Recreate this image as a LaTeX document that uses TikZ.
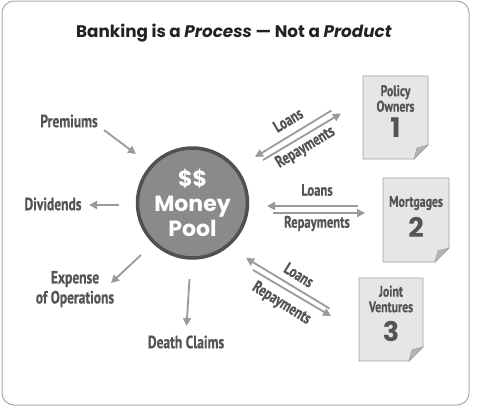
\documentclass[tikz,border=0pt]{standalone}
\usepackage{fontspec}
\usetikzlibrary{arrows.meta}
\newfontfamily\titlefont{Poppins}
\newfontfamily\condfont[FakeStretch=0.76,BoldFeatures={FakeBold=0.6}]{PT Sans}
\definecolor{labelgray}{HTML}{545456}
\definecolor{arrowgray}{HTML}{9A9A9C}
\definecolor{poolfill}{HTML}{8A8A8C}
\definecolor{poolline}{HTML}{505052}
\definecolor{docfill}{HTML}{E6E6E6}
\definecolor{docline}{HTML}{A0A0A0}
\definecolor{foldfill}{HTML}{B5B5B5}
\definecolor{framegray}{HTML}{AAAAAA}
\definecolor{titlecol}{HTML}{222222}
\newcommand{\docpage}[4]{%
  \filldraw[fill=docfill,draw=docline,line width=0.8pt]
    (#1,#2) -- (#3,#2) -- (#3,#4-14) -- (#3-14,#4) -- (#1,#4) -- cycle;
  \filldraw[fill=foldfill,draw=docline,line width=0.6pt]
    (#3,#4-14) -- (#3-14,#4) -- (#3-11,#4-11) -- cycle;}
\begin{document}
\begin{tikzpicture}[x=1pt,y=-1pt,
  lbl/.style={text=labelgray,font=\condfont\bfseries\fontsize{17.8}{20}\selectfont,align=center,inner sep=0pt},
  doclbl/.style={text=labelgray,font=\condfont\bfseries\fontsize{15.5}{15.5}\selectfont,align=center,inner sep=0pt},
  docnum/.style={text=labelgray,font=\titlefont\bfseries\fontsize{27}{27}\selectfont,inner sep=0pt},
  arr/.style={draw=arrowgray,line width=1.8pt,-{Triangle[length=8pt,width=8pt]}},
  arrlbl/.style={text=labelgray,font=\condfont\bfseries\fontsize{16.6}{17}\selectfont,inner sep=0pt}]
\useasboundingbox (0,0) rectangle (486,413);
\draw[framegray,line width=1pt,rounded corners=12pt] (2,1) rectangle (469,405);

\node[text=titlecol,font=\titlefont\bfseries\fontsize{16.8}{19}\selectfont] (title) at (234,33)
  {Banking is a \textit{Process} — Not a \textit{Product}};

\node[circle,minimum size=110pt,fill=poolfill,draw=poolline,line width=3.5pt,
  text=white,font=\titlefont\bfseries\fontsize{22}{25}\selectfont,align=center,inner sep=0pt] (pool) at (192.5,203)
  {\$\$\\Money\\Pool};

% left labels
\node[lbl] (prem) at (69,121) {Premiums};
\node[lbl] (div) at (53,204) {Dividends};
\node[lbl] (exp) at (75,289) {Expense\\of Operations};
\node[lbl] (death) at (186,342) {Death Claims};

\coordinate (premA) at (104,130); \coordinate (premB) at (136,154);
\coordinate (divA) at (119,205); \coordinate (divB) at (89,205);
\coordinate (expA) at (141,255); \coordinate (expB) at (111,283);
\coordinate (deathA) at (189.5,279); \coordinate (deathB) at (186.5,326);
\draw[arr] (premA) -- (premB);
\draw[arr] (divA) -- (divB);
\draw[arr] (expA) -- (expB);
\draw[arr] (deathA) -- (deathB);

% documents
\docpage{363}{76}{428}{159}
\docpage{383}{178}{449}{262}
\docpage{359}{278}{423}{361}
\node[doclbl] (po) at (395.5,98.5) {Policy\\Owners};
\node[docnum] (n1) at (395.5,128) {1};
\node[doclbl] (mo) at (416,203) {Mortgages};
\node[docnum] (n2) at (416,227) {2};
\node[doclbl] (jv) at (391,299) {Joint\\Ventures};
\node[docnum] (n3) at (391,331) {3};

% pair 1
\coordinate (l1a) at (331.5,110.5); \coordinate (l1b) at (255,157);
\coordinate (r1a) at (263,160); \coordinate (r1b) at (341,113.5);
\draw[arr] (l1a) -- (l1b);
\draw[arr] (r1a) -- (r1b);
\node[arrlbl,rotate=31] (loans1) at (288,120) {Loans};
\node[arrlbl,rotate=31] (rep1) at (305.5,147.5) {Repayments};

% pair 2
\coordinate (l2a) at (358,206); \coordinate (l2b) at (267,206);
\coordinate (r2a) at (273,213); \coordinate (r2b) at (365,213);
\draw[arr] (l2a) -- (l2b);
\draw[arr] (r2a) -- (r2b);
\node[arrlbl] (loans2) at (317,190) {Loans};
\node[arrlbl] (rep2) at (317,223.5) {Repayments};

% pair 3
\coordinate (l3a) at (329.5,308.5); \coordinate (l3b) at (246,258);
\coordinate (r3a) at (253,270); \coordinate (r3b) at (331,316);
\draw[arr] (l3a) -- (l3b);
\draw[arr] (r3a) -- (r3b);
\node[arrlbl,rotate=-32] (loans3) at (299,275) {Loans};
\node[arrlbl,rotate=-32] (rep3) at (281.5,303.5) {Repayments};
\end{tikzpicture}
\end{document}
